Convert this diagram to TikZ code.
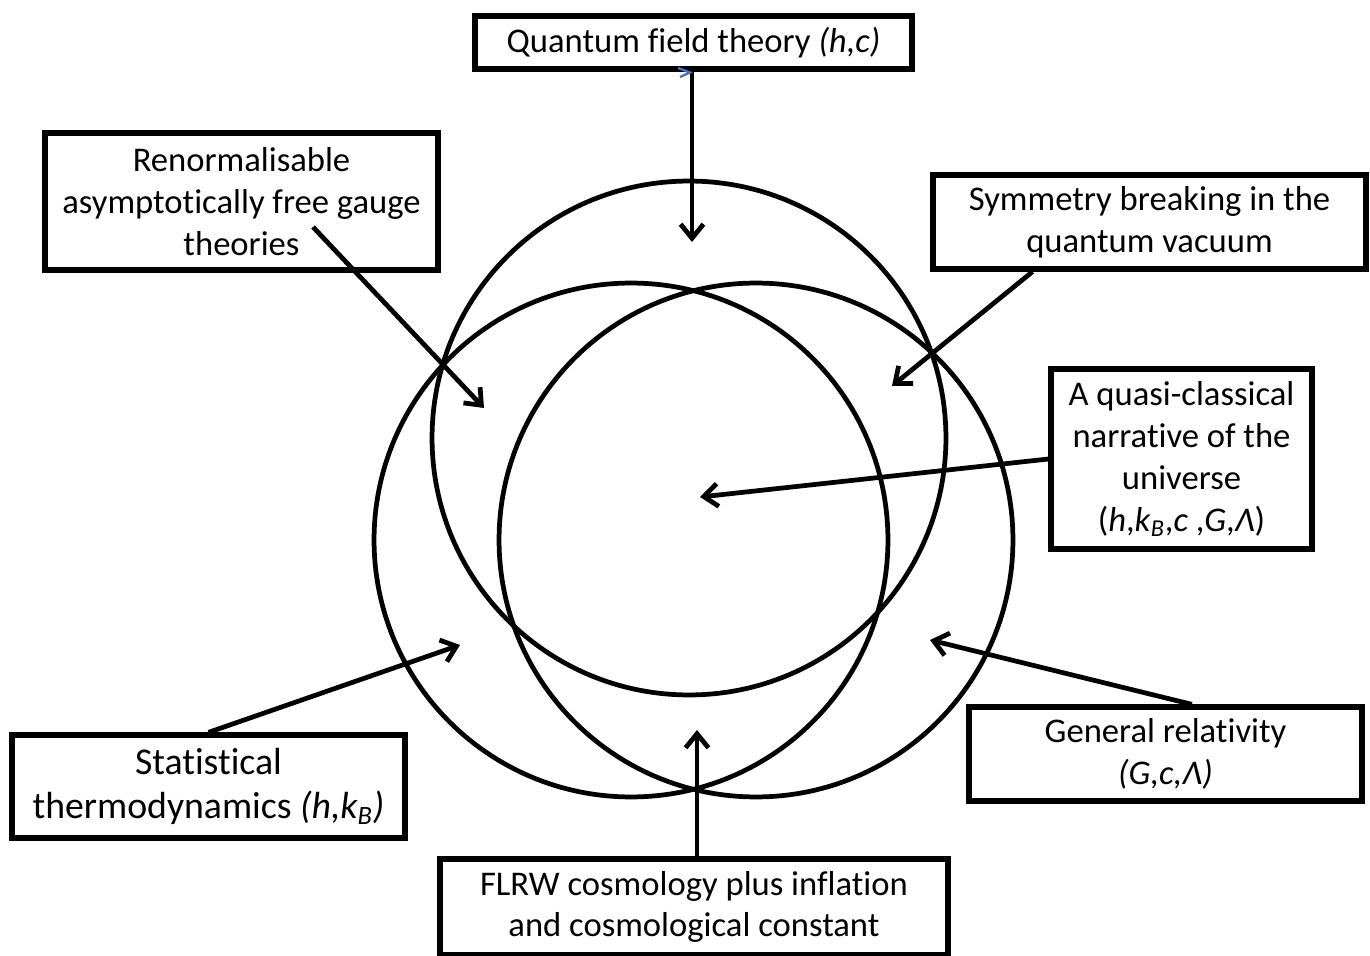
\documentclass[tikz,border=0pt]{standalone}
\usepackage{fontspec}
\setmainfont{Carlito}[Ligatures={NoCommon,NoRequired,NoContextual}]
\usetikzlibrary{arrows.meta}
\definecolor{markblue}{RGB}{68,114,196}

\begin{document}
\begin{tikzpicture}[x=0.02cm, y=-0.02cm,
        box/.style = {draw, line width=3pt, align=center, inner sep=0pt, font=\fontsize{19.7}{23.8}\selectfont},
        ring/.style = {line width=2.7pt},
        >={Straight Barb[length=8pt, width=13pt]}]
        \useasboundingbox (0,0) rectangle (1370,956);

        %Kreise
        \draw[ring] (689,438) circle[radius=5.14cm];
        \draw[ring] (631,540) circle[radius=5.14cm];
        \draw[ring] (756,540) circle[radius=5.14cm];

        %Kaesten
        \node[box, minimum width=8.74cm, minimum height=1.06cm] (qft) at (693.5,42.5) {Quantum field theory \textit{(h,c)}};
        \node[box, minimum width=7.86cm, minimum height=2.74cm] (renorm) at (241.5,201.5) {Renormalisable\\asymptotically free gauge\\theories};
        \node[box, minimum width=8.66cm, minimum height=1.88cm] (symm) at (1149.5,222) {Symmetry breaking in the\\quantum vacuum};
        \node[box, minimum width=5.22cm, minimum height=3.6cm] (quasi) at (1181.5,459) {A quasi-classical\\narrative of the\\universe\\(\textit{h},\textit{k}\textsubscript{\textit{B}},\textit{c} ,\textit{G},\textit{Λ})};
        \node[box, minimum width=7.86cm, minimum height=2.06cm, font=\fontsize{21.5}{25.5}\selectfont] (stat) at (208.5,786.5) {Statistical\\thermodynamics \textit{(h,k\textsubscript{B})}};
        \node[box, minimum width=7.86cm, minimum height=1.88cm] (gr) at (1165.5,754) {General relativity\\\textit{(G,c,Λ)}};
        \node[box, minimum width=10.16cm, minimum height=1.92cm] (flrw) at (694,907) {FLRW cosmology plus inflation\\and cosmological constant};

        %Pfeilspitzen
        \coordinate (tqft) at (692,242);
        \coordinate (trenorm) at (484,408);
        \coordinate (tsymm) at (892,386);
        \coordinate (tquasi) at (700,497);
        \coordinate (tstat) at (460,645);
        \coordinate (tgr) at (930,640);
        \coordinate (tflrw) at (697,730);

        %Pfeile
        \draw[->, ring] (tqft |- qft.south) -- (tqft);
        \draw[->, ring] ([shift={(71.5,25.5)}]renorm.center) -- (trenorm);
        \draw[->, ring] (symm.203) -- (tsymm);
        \draw[->, ring] (quasi.west) -- (tquasi);
        \draw[->, ring] (stat.north) -- (tstat);
        \draw[->, ring] (gr.62) -- (tgr);
        \draw[->, ring] (tflrw |- flrw.north) -- (tflrw);

        \draw[markblue, line width=1.3pt] (678,68) -- (690,72.5) -- (680,77);

    \end{tikzpicture}
\end{document}
